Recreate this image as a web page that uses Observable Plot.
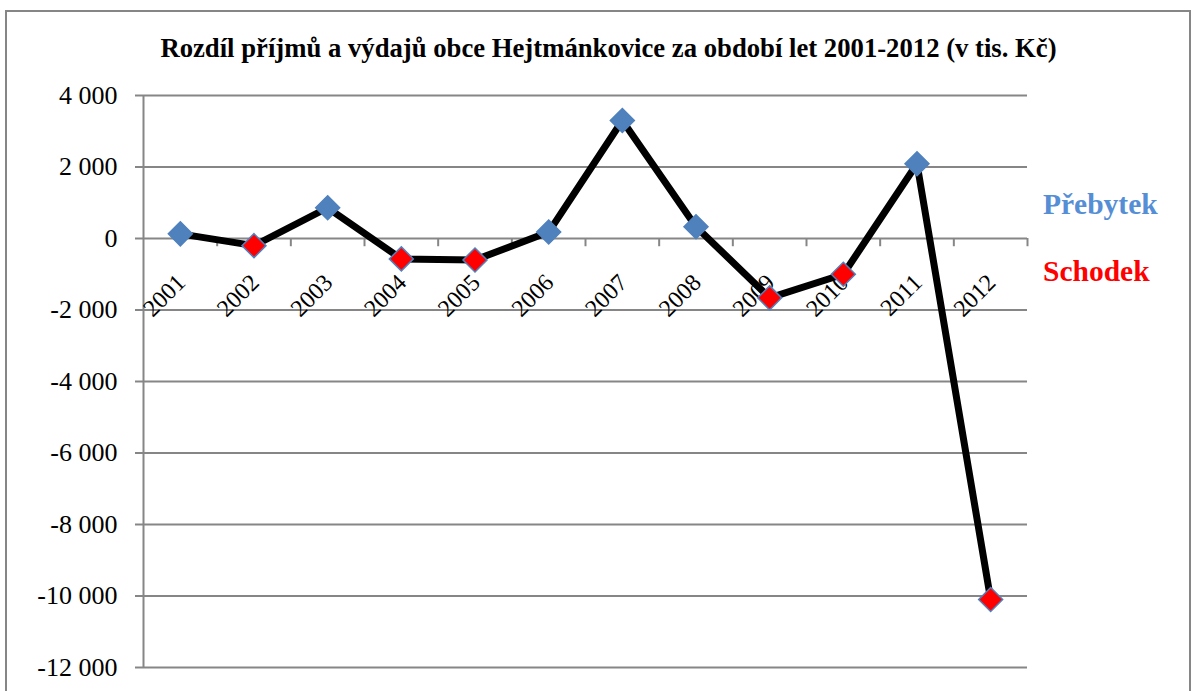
<!DOCTYPE html>
<html>
<head>
<meta charset="utf-8">
<script src="https://cdn.jsdelivr.net/npm/d3@7"></script>
<script src="https://cdn.jsdelivr.net/npm/@observablehq/plot@0.6"></script>
<style>
  html, body { margin: 0; padding: 0; background: #fff; }
  #wrap { position: relative; width: 1196px; height: 691px; overflow: hidden; font-family: 'Liberation Serif', serif; }
  #frame { position: absolute; left: 5px; top: 10px; width: 1186px; height: 700px; border: 2px solid #868686; box-sizing: border-box; }
  #title { position: absolute; left: 0; width: 1217px; top: 33px; text-align: center; font-weight: bold; font-size: 26.7px; color: #000; white-space: nowrap; font-family: 'Liberation Serif', serif; }
  .leg { position: absolute; left: 1043px; font-weight: bold; font-size: 29.5px; white-space: nowrap; font-family: 'Liberation Serif', serif; }
  #chart { position: absolute; left: 0; top: 0; }
  #chart svg, #chart svg text { font-family: 'Liberation Serif', serif !important; }
</style>
</head>
<body>
<div id="wrap">
  <div id="frame"></div>
  <div id="chart"></div>
  <div id="title"></div>
  <div class="leg" id="leg1"></div>
  <div class="leg" id="leg2"></div>
</div>
<script>
const titleText = "Rozdíl příjmů a výdajů obce Hejtmánkovice za období let 2001-2012 (v tis. Kč)";
const years = [2001, 2002, 2003, 2004, 2005, 2006, 2007, 2008, 2009, 2010, 2011, 2012];
const values = [130, -200, 860, -570, -600, 180, 3300, 330, -1660, -1000, 2090, -10100];
const yTicks = [4000, 2000, 0, -2000, -4000, -6000, -8000, -10000, -12000];
const legendLabels = ["Přebytek", "Schodek"];
const surplusColor = "#4F81BD";
const deficitColor = "#FF0000";

const data = years.map((y, i) => ({year: y, value: values[i]}));
const fmt = v => {
  const s = Math.abs(v).toString().replace(/\B(?=(\d{3})+(?!\d))/g, " ");
  return (v < 0 ? "-" : "") + s;
};

document.getElementById("title").textContent = titleText;
const l1 = document.getElementById("leg1");
l1.textContent = legendLabels[0]; l1.style.color = "#558ED5"; l1.style.top = "188px";
const l2 = document.getElementById("leg2");
l2.textContent = legendLabels[1]; l2.style.color = deficitColor; l2.style.top = "255px";

const grid = "#868686";
const serif = "Liberation Serif";
const chart = Plot.plot({
  width: 1196,
  height: 691,
  marginLeft: 143,
  marginRight: 169,
  marginTop: 95,
  marginBottom: 24,
  style: {background: "transparent", fontFamily: "'Liberation Serif', serif"},
  x: {domain: [years[0] - 0.5, years[years.length - 1] + 0.5], axis: null},
  y: {domain: [-12000, 4000], axis: null},
  marks: [
    Plot.gridY(yTicks, {stroke: grid, strokeOpacity: 1, strokeWidth: 2}),
    Plot.axisY(yTicks, {tickFormat: fmt, tickSize: 8, tickPadding: 18, fontSize: 26, fontFamily: serif, stroke: grid, strokeWidth: 2, fill: "#000", label: null}),
    Plot.ruleX([years[0] - 0.5], {y1: -12000, y2: 4000, stroke: grid, strokeWidth: 2}),
    Plot.ruleX(years, {x: d => d + 0.5, y1: 0, y2: -230, stroke: grid, strokeWidth: 2}),
    Plot.text(years, {x: d => d, y: 0, text: d => String(d), rotate: -45, textAnchor: "end", fontSize: 24, fontFamily: serif, dx: 1, dy: 40, fill: "#000"}),
    Plot.line(data, {x: "year", y: "value", stroke: "#000", strokeWidth: 7, strokeLinejoin: "miter"}),
    Plot.dot(data, {x: "year", y: "value", symbol: "diamond2", r: 10.8,
      fill: d => d.value >= 0 ? surplusColor : deficitColor,
      stroke: surplusColor, strokeWidth: 1.5})
  ]
});
document.getElementById("chart").appendChild(chart);
</script>
</body>
</html>
